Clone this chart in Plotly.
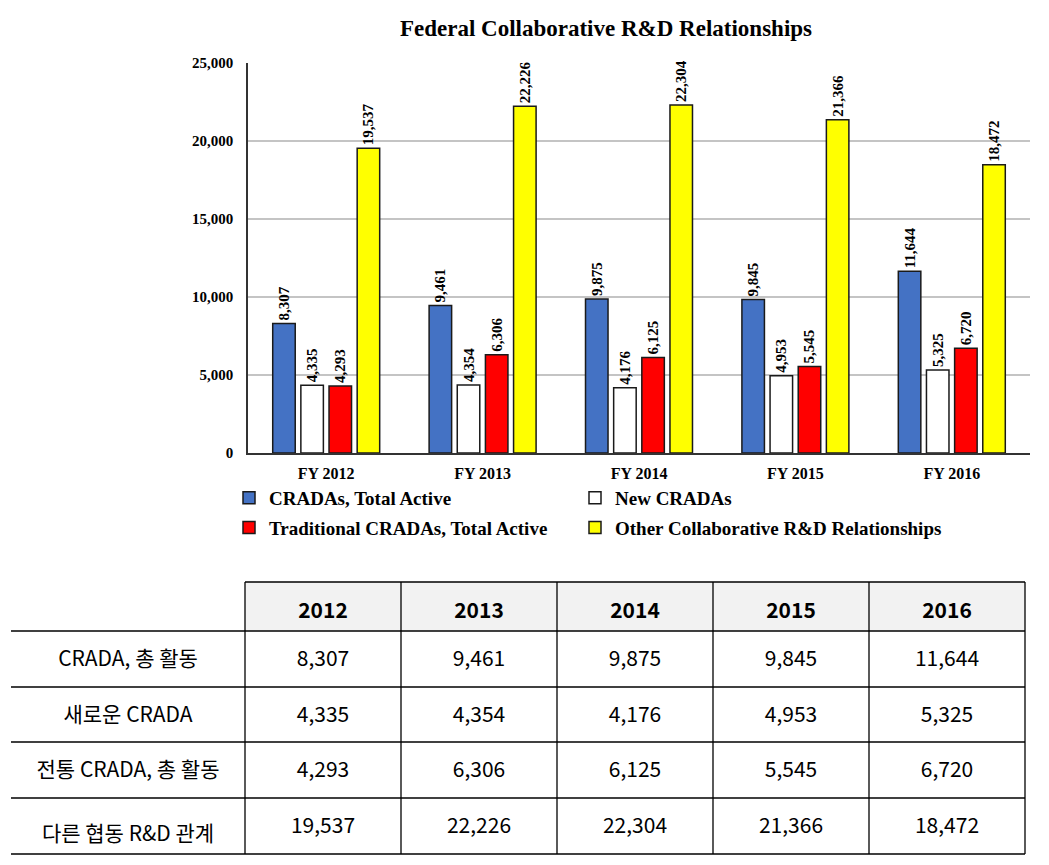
import plotly.graph_objects as go

# ---------------- data ----------------
categories = ["FY 2012", "FY 2013", "FY 2014", "FY 2015", "FY 2016"]
years = ["2012", "2013", "2014", "2015", "2016"]
series_names = [
    "CRADAs, Total Active",
    "New CRADAs",
    "Traditional CRADAs, Total Active",
    "Other Collaborative R&D Relationships",
]
cradas_total = [8307, 9461, 9875, 9845, 11644]
new_cradas = [4335, 4354, 4176, 4953, 5325]
traditional_cradas = [4293, 6306, 6125, 5545, 6720]
other_relationships = [19537, 22226, 22304, 21366, 18472]
row_labels_kr = ["CRADA, 총 활동", "새로운 CRADA", "전통 CRADA, 총 활동", "다른 협동 R&D 관계"]
y_tick_values = [0, 5000, 10000, 15000, 20000, 25000]

# ---------------- styling ----------------
W, H = 1049, 865
def px(xp):
    return xp / W
def py(yp):
    return 1 - yp / H

SERIF = "Liberation Serif"
KR = "Noto Sans CJK KR"
colors = ["#4472C4", "#FFFFFF", "#FF0000", "#FFFF00"]
legend_ids = ["legend", "legend2", "legend", "legend2"]
series_values = [cradas_total, new_cradas, traditional_cradas, other_relationships]

fig = go.Figure()
for k, (name, vals, col) in enumerate(zip(series_names, series_values, colors)):
    fig.add_trace(go.Bar(
        x=categories, y=vals, name=name,
        marker=dict(color=col, line=dict(color="#1a1a1a", width=1.5)),
        texttemplate="%{y:,}", textposition="outside", textangle=-90,
        textfont=dict(family=SERIF, size=15, color="black", weight=700),
        cliponaxis=False, constraintext="none",
        legend=legend_ids[k], legendgroup=f"g{k}",
        xaxis="x", yaxis="y",
    ))

# ---------------- table ----------------
col_edges = [11, 245, 401, 557, 713, 869, 1025]
row_edges = [582, 631, 687, 742, 798, 854]
col_widths = [col_edges[i + 1] - col_edges[i] for i in range(len(col_edges) - 1)]

year_columns = []
for j in range(len(years)):
    year_columns.append([f"{series_values[i][j]:,}" for i in range(len(series_values))])

table_top = 594.5
fig.add_trace(go.Table(
    domain=dict(x=[px(col_edges[0]), px(col_edges[-1])], y=[0, py(table_top)]),
    columnwidth=col_widths,
    header=dict(
        values=[""] + years,
        height=48,
        align="center",
        fill=dict(color="rgba(0,0,0,0)"),
        line=dict(color="rgba(0,0,0,0)", width=0),
        font=dict(family=KR, size=21, color="black", weight=700),
    ),
    cells=dict(
        values=[row_labels_kr] + year_columns,
        height=55.5,
        align="center",
        fill=dict(color="rgba(0,0,0,0)"),
        line=dict(color="rgba(0,0,0,0)", width=0),
        font=dict(family=KR, size=21, color="black"),
    ),
))

shapes = []
# header background
shapes.append(dict(type="rect", xref="paper", yref="paper", layer="below",
                   x0=px(col_edges[1]), x1=px(col_edges[-1]),
                   y0=py(row_edges[1]), y1=py(row_edges[0]),
                   fillcolor="#F2F2F2", line=dict(width=0)))
# top border of header (year cells only)
shapes.append(dict(type="line", xref="paper", yref="paper", layer="below",
                   x0=px(col_edges[1]), x1=px(col_edges[-1]),
                   y0=py(row_edges[0]), y1=py(row_edges[0]),
                   line=dict(color="black", width=1.3)))
for ye in row_edges[1:]:
    shapes.append(dict(type="line", xref="paper", yref="paper", layer="below",
                       x0=px(col_edges[0]), x1=px(col_edges[-1]),
                       y0=py(ye), y1=py(ye),
                       line=dict(color="black", width=1.3)))
for xe in col_edges[1:]:
    shapes.append(dict(type="line", xref="paper", yref="paper", layer="below",
                       x0=px(xe), x1=px(xe),
                       y0=py(row_edges[-1]), y1=py(row_edges[0]),
                       line=dict(color="black", width=1.3)))

legend_font = dict(family=SERIF, size=19, color="black", weight=700)
fig.update_layout(
    width=W, height=H,
    margin=dict(l=0, r=0, t=0, b=0, autoexpand=False),
    paper_bgcolor="white", plot_bgcolor="white",
    barmode="group", bargap=0.28, bargroupgap=0.2,
    title=dict(text="Federal Collaborative R&D Relationships",
               x=px(606), xanchor="center", y=py(28), yanchor="middle",
               font=dict(family=SERIF, size=23, color="black", weight=700)),
    xaxis=dict(domain=[px(248), px(1030)], anchor="y", automargin=False,
               showline=True, linecolor="#333333", linewidth=1.5,
               ticks="", showgrid=False,
               tickfont=dict(family=SERIF, size=16, color="black", weight=700),
               ticklabelstandoff=5),
    yaxis=dict(domain=[py(453), py(63)], anchor="x", automargin=False,
               range=[0, 25000], tickvals=y_tick_values, tickformat=",",
               showline=True, linecolor="#333333", linewidth=1.5,
               showgrid=True, gridcolor="#C4C4C4", gridwidth=1.5,
               zeroline=False, ticks="",
               tickfont=dict(family=SERIF, size=15, color="black", weight=700),
               ticklabelstandoff=10),
    showlegend=True,
    legend=dict(orientation="v", x=px(229), y=py(479), xanchor="left", yanchor="top",
                itemwidth=30, tracegroupgap=2, traceorder="grouped",
                bgcolor="rgba(0,0,0,0)", font=legend_font),
    legend2=dict(orientation="v", x=px(575), y=py(479), xanchor="left", yanchor="top",
                 itemwidth=30, tracegroupgap=2, traceorder="grouped",
                 bgcolor="rgba(0,0,0,0)", font=legend_font),
    shapes=shapes,
)

fig.write_html("out.html")
